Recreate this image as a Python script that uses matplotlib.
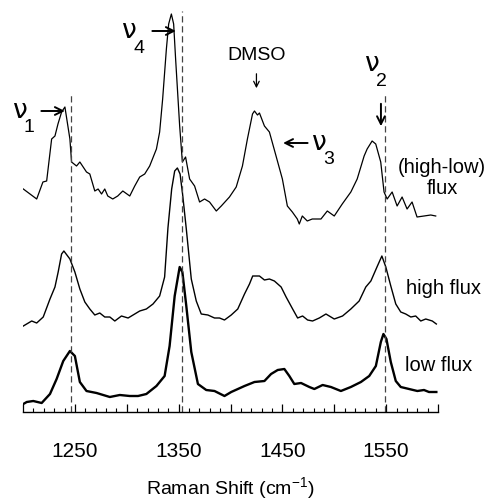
import matplotlib
matplotlib.use("Agg")
import matplotlib.pyplot as plt
from matplotlib.ticker import MultipleLocator

plt.rcParams['font.family'] = ['Liberation Sans', 'DejaVu Sans']
plt.rcParams['mathtext.fontset'] = 'custom'
plt.rcParams['mathtext.rm'] = 'Liberation Sans'

# ---- data -------------------------------------------------------------
# (high-low) flux difference spectrum
diff_wn = [1200.3, 1213.2, 1219.2, 1222.8, 1227.6, 1230.8, 1233.7, 1237.2, 1240.4, 1245.2,
           1246.8, 1251.6, 1254.8, 1261.2, 1264.4, 1269.2, 1272.4, 1275.7, 1278.8, 1281.7,
           1286.5, 1291.3, 1296.2, 1302.9, 1307.7, 1312.5, 1317.3, 1322.1, 1328.6, 1331.7,
           1334.6, 1338.2, 1340.4, 1343.0, 1345.2, 1347.1, 1351.0, 1353.6, 1356.7, 1360.6,
           1365.4, 1370.2, 1375.0, 1379.8, 1386.3, 1391.1, 1399.0, 1405.5, 1411.5, 1416.3,
           1421.2, 1423.1, 1426.0, 1427.9, 1432.7, 1437.5, 1443.9, 1450.0, 1454.8, 1459.6,
           1464.4, 1466.3, 1469.2, 1474.0, 1478.8, 1487.2, 1493.3, 1500.0, 1507.7, 1516.0,
           1522.1, 1528.8, 1531.7, 1536.5, 1540.0, 1544.8, 1548.0, 1551.0, 1555.8, 1560.6,
           1565.4, 1570.2, 1575.0, 1579.8, 1586.5, 1593.0, 1597.8]
diff_int = [23, 13, 30, 31, 73, 76, 88, 100, 105, 73,
            50, 46, 50, 40, 38, 21, 23, 18, 23, 16,
            13, 16, 21, 16, 26, 35, 38, 46, 63, 80,
            113, 163, 188, 198, 188, 153, 86, 50, 55, 33,
            26, 10, 13, 10, 1, 6, 15, 25, 46, 73,
            98, 101, 97, 99, 86, 80, 56, 33, 6, 0,
            -7, -12, -4, -9, -7, -7, 1, -4, 8, 20,
            33, 56, 63, 71, 68, 50, 20, 13, 20, 6,
            15, 3, 10, -5, -4, -3, -4]

# high flux spectrum
high_wn = [1200.3, 1208.4, 1213.2, 1219.5, 1226.0, 1230.8, 1233.9, 1237.2, 1239.4, 1245.2,
           1250.0, 1254.8, 1259.6, 1264.4, 1269.2, 1274.0, 1278.8, 1283.7, 1288.5, 1294.9,
           1301.3, 1307.7, 1312.5, 1318.9, 1325.3, 1331.7, 1336.5, 1339.7, 1343.3, 1346.2,
           1348.8, 1351.4, 1353.8, 1357.4, 1362.2, 1367.0, 1371.8, 1378.2, 1384.6, 1389.4,
           1394.2, 1400.7, 1407.0, 1413.5, 1418.3, 1421.4, 1427.9, 1432.7, 1437.5, 1442.3,
           1448.8, 1453.6, 1459.9, 1464.7, 1469.5, 1474.3, 1479.1, 1485.6, 1492.0, 1500.0,
           1508.0, 1516.0, 1524.0, 1530.4, 1535.3, 1541.6, 1545.9, 1549.7, 1554.5, 1559.3,
           1564.1, 1568.9, 1573.8, 1578.5, 1583.4, 1588.2, 1594.5, 1598.4]
high_int = [-4, 1, -1, 5, 23, 35, 50, 68, 71, 63,
            50, 33, 20, 13, 7, 9, 5, 5, 1, 6,
            4, 8, 11, 13, 18, 26, 45, 94, 133, 151,
            154, 148, 128, 93, 43, 21, 8, 7, 4, 4,
            2, 7, 13, 28, 38, 46, 46, 42, 43, 41,
            35, 25, 13, 4, 6, 2, 1, 4, 8, 3,
            6, 13, 21, 35, 41, 56, 66, 55, 36, 18,
            10, 8, 5, 6, 1, 3, 1, -2]

# low flux spectrum
low_wn = [1200.3, 1203.6, 1209.9, 1218.0, 1226.0, 1232.4, 1238.8, 1245.2, 1250.0, 1254.8,
          1261.2, 1270.9, 1283.7, 1293.3, 1302.9, 1310.9, 1318.9, 1328.6, 1336.5, 1341.3,
          1346.2, 1351.0, 1353.6, 1357.4, 1362.2, 1368.6, 1376.6, 1384.6, 1394.2, 1400.7,
          1413.5, 1423.1, 1432.7, 1439.1, 1445.5, 1451.9, 1456.7, 1461.5, 1468.0, 1476.0,
          1480.8, 1488.8, 1496.8, 1506.4, 1516.0, 1525.7, 1533.7, 1540.1, 1544.9, 1547.4,
          1550.3, 1554.5, 1559.3, 1564.1, 1572.1, 1580.1, 1586.5, 1591.3, 1598.4]
low_int = [-2, 0, 1, -1, 8, 23, 41, 51, 46, 20,
           11, 9, 5, 7, 6, 6, 8, 16, 26, 56,
           106, 135, 130, 96, 50, 18, 12, 11, 6, 10,
           16, 20, 21, 28, 32, 33, 26, 18, 19, 15,
           13, 17, 15, 11, 15, 20, 26, 36, 60, 68,
           63, 40, 21, 15, 13, 11, 12, 10, 10]

trace_offsets = [200, 90, 10]
band_positions = [1246, 1353, 1549]
band_tops = [318, 401, 318]
tick_labels = ['1250', '1350', '1450', '1550']
tick_values = [1250, 1350, 1450, 1550]

# ---- figure -----------------------------------------------------------
fig = plt.figure(figsize=(4.91, 5.02), dpi=100)
ax = fig.add_axes([23 / 491, 89 / 502, 415 / 491, 408 / 502])
ax.set_xlim(1200, 1600)
ax.set_ylim(0, 408)

ax.plot(diff_wn, [v + trace_offsets[0] for v in diff_int], color='black', lw=0.9)
ax.plot(high_wn, [v + trace_offsets[1] for v in high_int], color='black', lw=1.0)
ax.plot(low_wn, [v + trace_offsets[2] for v in low_int], color='black', lw=1.7)

for xb, yt in zip(band_positions, band_tops):
    ax.vlines(xb, 0, yt, colors='#444444', linestyles=(0, (5, 3)), lw=0.9)

for s in ['left', 'right', 'top']:
    ax.spines[s].set_visible(False)
ax.spines['bottom'].set_linewidth(1.0)
ax.set_yticks([])
ax.xaxis.set_major_locator(MultipleLocator(50))
ax.xaxis.set_minor_locator(MultipleLocator(10))
ax.tick_params(axis='x', which='major', direction='in', length=6, width=0.9,
               labelbottom=False)
ax.tick_params(axis='x', which='minor', direction='in', length=3, width=0.8)

for tv, tl in zip(tick_values, tick_labels):
    ax.text(tv, -39, tl, ha='center', va='center', fontsize=15)
ax.text(1400, -76, 'Raman Shift (cm$^{\\mathregular{-1}}$)', ha='center', va='center',
        fontsize=14)

def nu(x, y, sub, fs=19):
    ax.text(x, y, '\u03bd', ha='center', va='center', fontsize=fs,
            family='DejaVu Sans')
    ax.text(x + 8.5, y - 17, sub, ha='center', va='center', fontsize=14)

# nu1
nu(1197.5, 302, '1')
ax.annotate('', xy=(1243, 301), xytext=(1215, 301),
            arrowprops=dict(arrowstyle='->', lw=1.4, mutation_scale=14))
# nu4
nu(1303, 381.5, '4')
ax.annotate('', xy=(1350, 381), xytext=(1322, 381),
            arrowprops=dict(arrowstyle='->', lw=1.4, mutation_scale=14))
# DMSO
ax.text(1425, 358, 'DMSO', ha='center', va='center', fontsize=14)
ax.annotate('', xy=(1425, 321), xytext=(1425, 341),
            arrowprops=dict(arrowstyle='->', lw=0.9, mutation_scale=10))
# nu3
nu(1486, 270.5, '3')
ax.annotate('', xy=(1448, 269), xytext=(1477, 269),
            arrowprops=dict(arrowstyle='->', lw=1.4, mutation_scale=14))
# nu2
nu(1536.5, 349, '2')
ax.annotate('', xy=(1545, 283), xytext=(1545, 311),
            arrowprops=dict(arrowstyle='->', lw=1.4, mutation_scale=14))

ax.text(1604, 235, '(high-low)\nflux', ha='center', va='center', fontsize=14.5,
        linespacing=1.1)
ax.text(1569, 124, 'high flux', ha='left', va='center', fontsize=14.5)
ax.text(1568, 47, 'low flux', ha='left', va='center', fontsize=14.5)

fig.savefig('out.png', dpi=100)
